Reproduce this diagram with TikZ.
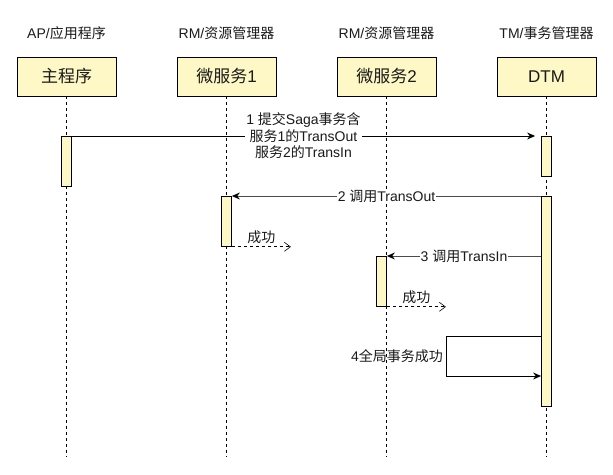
\documentclass[tikz,border=0pt]{standalone}
\usepackage{fontspec}
\setmainfont{Liberation Sans}
\newfontfamily\cjk{Noto Sans CJK SC}
\usetikzlibrary{arrows.meta}
\definecolor{actfill}{HTML}{FDF8C6}
\definecolor{txt}{HTML}{1A1A1A}
\tikzset{
  hdr/.style={font=\fontsize{14}{16.5}\selectfont, text=txt, inner sep=0pt},
  actor/.style={draw=black, line width=0.9pt, fill=actfill, minimum width=99pt, minimum height=39pt, inner sep=0pt, font=\fontsize{17}{20}\selectfont, text=txt},
  life/.style={draw=black, line width=0.8pt, dash pattern=on 3pt off 3pt},
  actbox/.style={draw=black, line width=0.8pt, fill=actfill, minimum width=10pt, inner sep=0pt, anchor=north},
  msg/.style={draw=black, line width=0.9pt, -{Stealth[length=8pt,width=7pt]}},
  msggray/.style={draw=black!70, line width=0.9pt, -{Stealth[length=8pt,width=7pt,fill=black,color=black]}},
  ret/.style={draw=black, line width=0.8pt, dash pattern=on 3pt off 3pt, -{Straight Barb[length=6pt,width=9pt,line width=0.6pt]}},
  lbl/.style={font=\fontsize{14}{16.5}\selectfont, text=txt, fill=white, inner sep=1pt, align=center},
  plainlbl/.style={font=\fontsize{14}{16.5}\selectfont, text=txt, inner sep=1pt}
}
\begin{document}
\begin{tikzpicture}[x=1pt,y=-1pt]
\useasboundingbox (0,0) rectangle (613,474);
% headers
\node[hdr] (h1) at (66.5,33) {AP/{\cjk 应用程序}};
\node[hdr] (h2) at (226.5,33) {RM/{\cjk 资源管理器}};
\node[hdr] (h3) at (386.5,33) {RM/{\cjk 资源管理器}};
\node[hdr] (h4) at (546.5,33) {TM/{\cjk 事务管理器}};
% actors
\node[actor] (a1) at (66.5,76.5) {{\cjk 主程序}};
\node[actor] (a2) at (226.5,76.5) {{\cjk 微服务}1};
\node[actor] (a3) at (386.5,76.5) {{\cjk 微服务}2};
\node[actor] (a4) at (546.5,76.5) {DTM};
% lifeline ends
\coordinate (e1) at (66.5,457);
\coordinate (e2) at (226.5,457);
\coordinate (e3) at (386.5,457);
\coordinate (e4) at (546.5,457);
\draw[life] (a1.south) -- (e1);
\draw[life] (a2.south) -- (e2);
\draw[life] (a3.south) -- (e3);
\draw[life] (a4.south) -- (e4);
% activations
\node[actbox, minimum height=50pt] (act1) at (66.5,136) {};
\node[actbox, minimum height=40pt] (dtm1) at (546.5,136) {};
\node[actbox, minimum height=210pt] (dtm2) at (546.5,196) {};
\node[actbox, minimum height=50pt] (ms1) at (226.5,196) {};
\node[actbox, minimum height=50pt] (ms2) at (381.5,256) {};
% message 1
\coordinate (m1end) at ([xshift=-6pt]dtm1.north west);
\draw[msg] (act1.north east) -- node[lbl, midway] {1 {\cjk 提交}Saga{\cjk 事务含}\\{\cjk 服务}1{\cjk 的}TransOut\\{\cjk 服务}2{\cjk 的}TransIn} (m1end);
% message 2
\draw[msggray] (dtm2.north west) -- node[lbl, midway] {2 {\cjk 调用}TransOut} (ms1.north east);
% return 1
\coordinate (r1end) at ([xshift=59pt]ms1.south east);
\draw[ret] (ms1.south east) -- node[plainlbl, above=2pt, midway] {{\cjk 成功}} (r1end);
% message 3
\coordinate (m3start) at ([yshift=-60pt]dtm2.north west);
\draw[msggray] (m3start) -- node[lbl, midway] {3 {\cjk 调用}TransIn} (ms2.north east);
% return 2
\coordinate (r2end) at ([xshift=59pt]ms2.south east);
\draw[ret] (ms2.south east) -- node[plainlbl, above=2pt, midway] {{\cjk 成功}} (r2end);
% self message 4
\coordinate (s1) at ([yshift=-140pt]dtm2.north west);
\coordinate (s2) at (446,336);
\coordinate (s3) at (446,376);
\coordinate (s4) at ([yshift=-180pt]dtm2.north west);
\draw[msg] (s1) -- (s2) -- (s3) -- (s4);
\node[plainlbl, anchor=east] (l4) at (444,356) {4{\cjk 全局事务成功}};
\end{tikzpicture}
\end{document}
